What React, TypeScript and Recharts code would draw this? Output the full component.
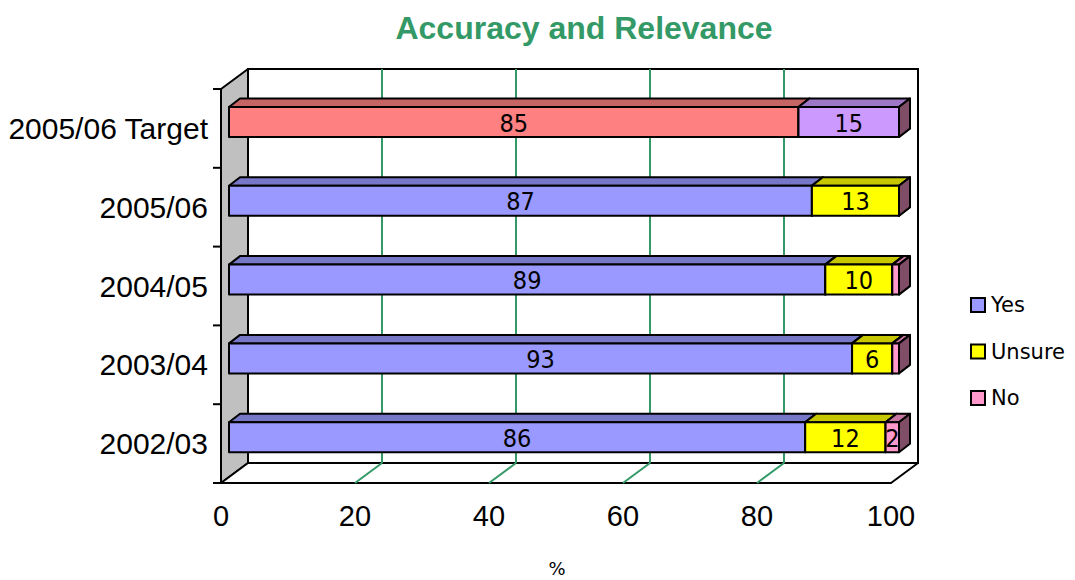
import { BarChart, Bar, XAxis, YAxis, CartesianGrid, Cell, LabelList } from "recharts";

const years = ["2005/06 Target", "2005/06", "2004/05", "2003/04", "2002/03"];
const yesValues = [85, 87, 89, 93, 86];
const unsureValues = [15, 13, 10, 6, 12];
const noValues: (number | null)[] = [null, 0, 1, 1, 2];
const xTicks = [0, 20, 40, 60, 80, 100];
const seriesNames = ["Yes", "Unsure", "No"];
const seriesColors = ["#9999FF", "#FFFF00", "#FF99CC"];
const targetColors = ["#FF8080", "#CC99FF"];

const W = 1075, H = 580;
const LEFT = 221, RIGHT = 891, TOP = 89, BOTTOM = 483;
const DX = 27, DY = -20; // depth of the walls
const BX = 8, BY = -6; // bars sit a bit behind the front plane
const BDX = 11, BDY = -8.5; // bar thickness
const GREEN = "#339966";

const data = years.map((year, i) => ({ year, yes: yesValues[i], unsure: unsureValues[i], no: noValues[i] }));

function shade(hex: string, f: number) {
  const n = parseInt(hex.slice(1), 16);
  const c = [(n >> 16) & 255, (n >> 8) & 255, n & 255].map(v => Math.round(v * f));
  return `rgb(${c[0]},${c[1]},${c[2]})`;
}

function Box3D(props: any) {
  const { x, y, width, height, fill } = props;
  if (x == null || y == null || !height) return null;
  const w = Math.max(width || 0, 0);
  const fx = x + BX, fy = y + BY;
  const top = `${fx},${fy} ${fx + w},${fy} ${fx + w + BDX},${fy + BDY} ${fx + BDX},${fy + BDY}`;
  const side = `${fx + w},${fy} ${fx + w + BDX},${fy + BDY} ${fx + w + BDX},${fy + height + BDY} ${fx + w},${fy + height}`;
  return (
    <g stroke="#000" strokeWidth={2} strokeLinejoin="round">
      {w > 0 && <polygon points={top} fill={shade(fill, 0.78)} />}
      {w > 0 && <rect x={fx} y={fy} width={w} height={height} fill={fill} />}
      <polygon points={side} fill={shade(fill, 0.5)} />
    </g>
  );
}

function BarLabel(props: any) {
  const { x, y, width, height, value } = props;
  if (value == null || value < 2) return null;
  return (
    <text x={x + width / 2 + BX} y={y + height / 2 + BY + 1} textAnchor="middle" dominantBaseline="central"
      fontSize={25} fill="#000" fontFamily='"Liberation Sans Narrow", "DejaVu Sans Condensed", sans-serif'>
      {value}
    </text>
  );
}

function GridLine(p: any) {
  const { x1, y1, y2 } = p;
  if (x1 <= LEFT + 1 || x1 >= RIGHT - 1) return <g key={p.key} />;
  return (
    <g key={p.key}>
      <line x1={x1 + DX} y1={y1 + DY} x2={x1 + DX} y2={y2 + DY} stroke={GREEN} strokeWidth={2} />
      <line x1={x1 + DX} y1={y2 + DY} x2={x1} y2={y2} stroke={GREEN} strokeWidth={2} />
    </g>
  );
}

export default function App() {
  const band = (BOTTOM - TOP) / years.length;
  const font = '"Liberation Sans", Arial, sans-serif';
  return (
    <div style={{ position: "absolute", left: 0, top: 0, width: W, height: H, background: "#fff" }}>
      <svg width={W} height={H} style={{ position: "absolute", left: 0, top: 0 }}>
        <text x={584} y={39} textAnchor="middle" fontSize={32} fontWeight="bold" fill={GREEN} fontFamily={font}>
          Accuracy and Relevance
        </text>
        <rect x={LEFT + DX} y={TOP + DY} width={RIGHT - LEFT} height={BOTTOM - TOP} fill="#fff" stroke="#000" strokeWidth={2} />
        <polygon points={`${LEFT},${TOP} ${LEFT + DX},${TOP + DY} ${LEFT + DX},${BOTTOM + DY} ${LEFT},${BOTTOM}`}
          fill="#C0C0C0" stroke="#000" strokeWidth={2} strokeLinejoin="round" />
        <polygon points={`${LEFT},${BOTTOM} ${RIGHT},${BOTTOM} ${RIGHT + DX},${BOTTOM + DY} ${LEFT + DX},${BOTTOM + DY}`}
          fill="#fff" stroke="#000" strokeWidth={2} strokeLinejoin="round" />
        {years.concat([""]).map((_, k) => (
          <line key={k} x1={LEFT - 8} y1={TOP + k * band} x2={LEFT} y2={TOP + k * band} stroke="#000" strokeWidth={2} />
        ))}
        <text x={557} y={568} textAnchor="middle" dominantBaseline="central" fontSize={18} fontFamily='"DejaVu Sans", sans-serif'>%</text>
        {seriesNames.map((name, i) => (
          <g key={name}>
            <rect x={971} y={298 + i * 46.5} width={14} height={14} fill={seriesColors[i]} stroke="#000" strokeWidth={2} />
            <text x={991} y={305 + i * 46.5} dominantBaseline="central" fontSize={21} fontFamily='"DejaVu Sans", sans-serif'>{name}</text>
          </g>
        ))}
      </svg>
      <div style={{ position: "absolute", left: 0, top: 0 }}>
        <BarChart width={W} height={H} data={data} layout="vertical"
          margin={{ top: TOP, right: W - RIGHT, bottom: H - BOTTOM - 60, left: 0 }}>
          <CartesianGrid horizontal={false} vertical={GridLine} />
          <XAxis type="number" domain={[0, 100]} ticks={xTicks} axisLine={false} tickLine={false} height={60}
            tickMargin={16} tick={{ fontSize: 29, fill: "#000", fontFamily: font }} />
          <YAxis type="category" dataKey="year" width={LEFT} axisLine={false} tickLine={false} tickMargin={7}
            tick={{ fontSize: 30, fill: "#000", fontFamily: font }} />
          <Bar dataKey="yes" stackId="a" barSize={30} fill={seriesColors[0]} shape={Box3D} isAnimationActive={false}>
            {data.map((d, i) => <Cell key={i} fill={i === 0 ? targetColors[0] : seriesColors[0]} />)}
            <LabelList dataKey="yes" content={BarLabel} />
          </Bar>
          <Bar dataKey="unsure" stackId="a" barSize={30} fill={seriesColors[1]} shape={Box3D} isAnimationActive={false}>
            {data.map((d, i) => <Cell key={i} fill={i === 0 ? targetColors[1] : seriesColors[1]} />)}
            <LabelList dataKey="unsure" content={BarLabel} />
          </Bar>
          <Bar dataKey="no" stackId="a" barSize={30} fill={seriesColors[2]} shape={Box3D} isAnimationActive={false}>
            <LabelList dataKey="no" content={BarLabel} />
          </Bar>
        </BarChart>
      </div>
    </div>
  );
}
